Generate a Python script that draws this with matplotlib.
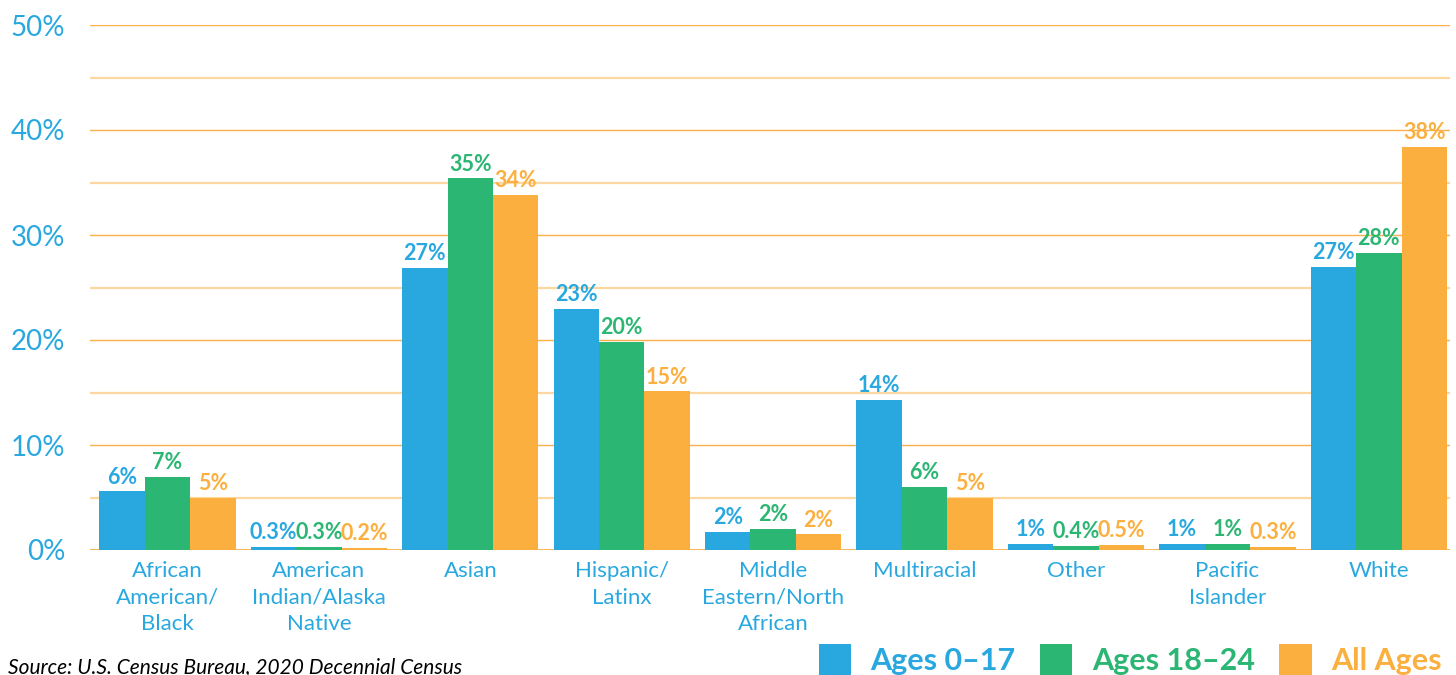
import matplotlib
matplotlib.use("Agg")
import matplotlib.pyplot as plt
import numpy as np
from matplotlib.patches import Patch

plt.rcParams['font.family'] = ['Lato', 'DejaVu Sans']

categories = ["African\nAmerican/\nBlack", "American\nIndian/Alaska\nNative", "Asian",
              "Hispanic/\nLatinx", "Middle\nEastern/North\nAfrican", "Multiracial",
              "Other", "Pacific\nIslander", "White"]
series_names = ["Ages 0\u201317", "Ages 18\u201324", "All Ages"]
ages_0_17 = [5.6, 0.3, 26.9, 23.0, 1.7, 14.3, 0.6, 0.6, 27.0]
ages_18_24 = [7.0, 0.3, 35.4, 19.8, 2.0, 6.0, 0.4, 0.6, 28.3]
all_ages = [5.0, 0.2, 33.8, 15.1, 1.5, 5.0, 0.5, 0.3, 38.4]
labels_0_17 = ["6%", "0.3%", "27%", "23%", "2%", "14%", "1%", "1%", "27%"]
labels_18_24 = ["7%", "0.3%", "35%", "20%", "2%", "6%", "0.4%", "1%", "28%"]
labels_all = ["5%", "0.2%", "34%", "15%", "2%", "5%", "0.5%", "0.3%", "38%"]
yticks = [0, 10, 20, 30, 40, 50]
ytick_labels = ["0%", "10%", "20%", "30%", "40%", "50%"]

colors = ["#29A8E0", "#2BB673", "#FBAF3F"]
blue = colors[0]

fig = plt.figure(figsize=(14.56, 6.75), dpi=100)
ax = fig.add_axes([90/1456, 1-550/675, (1450-90)/1456, (550-25)/675])

x = np.arange(len(categories))
w = 0.3
data = [ages_0_17, ages_18_24, all_ages]
labs = [labels_0_17, labels_18_24, labels_all]

# gridlines
for g in range(5, 51, 5):
    if g % 10 == 0:
        ax.axhline(g, color="#F9B04A", lw=1.0, zorder=0)
    else:
        ax.axhline(g, color="#FDD7A0", lw=1.6, zorder=0)
ax.axhline(0, color="#F9B04A", lw=1.3, zorder=0)

for i, (vals, lab, c) in enumerate(zip(data, labs, colors)):
    pos = x + (i - 1) * w
    ax.bar(pos, vals, width=w, color=c, zorder=2)
    for p, v, t in zip(pos, vals, lab):
        ax.text(p, v + 0.35, t, ha="center", va="bottom", color=c,
                fontsize=15.5, fontweight="bold", zorder=3)

ax.set_xlim(-0.512, 8.47)
ax.set_ylim(0, 50)
ax.set_yticks(yticks)
ax.set_yticklabels(ytick_labels, color=blue, fontsize=20)
ax.set_xticks(x)
ax.set_xticklabels(categories, color=blue, fontsize=16, linespacing=1.4)
ax.tick_params(axis="both", length=0)
ax.tick_params(axis="y", pad=18)
ax.tick_params(axis="x", pad=8)
for s in ax.spines.values():
    s.set_visible(False)

handles = [Patch(facecolor=c) for c in colors]
leg = fig.legend(handles, series_names, loc="lower right", bbox_to_anchor=(1.003, -0.027),
                 ncol=3, frameon=False, fontsize=22, handlelength=1.05, handleheight=1.2,
                 columnspacing=0.8, handletextpad=0.65, borderaxespad=0.2)
for t, c in zip(leg.get_texts(), colors):
    t.set_color(c)
    t.set_fontweight("bold")

fig.text(8/1456, 1-673/675, "Source: U.S. Census Bureau, 2020 Decennial Census",
         fontsize=15, style="italic", color="black", ha="left", va="baseline")

fig.savefig("out.png", dpi=100)
